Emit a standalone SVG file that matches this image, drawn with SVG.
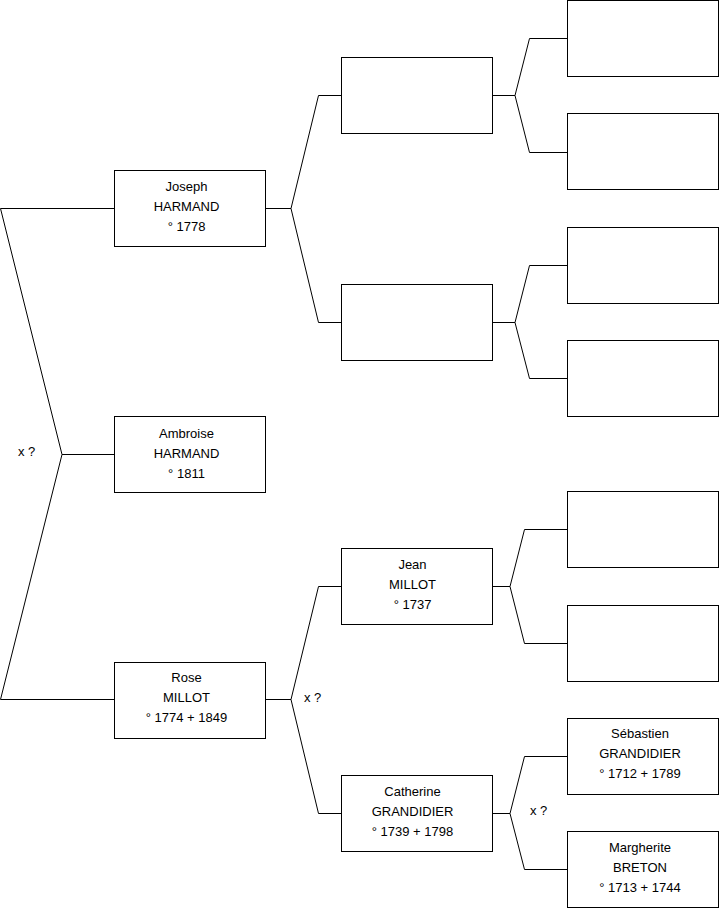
<svg xmlns="http://www.w3.org/2000/svg" width="719" height="908" viewBox="0 0 719 908">
<style>
.box{fill:#fff;stroke:#000;stroke-width:1}
.ln{fill:none;stroke:#000;stroke-width:1}
text{font-family:"Liberation Sans",Arial,sans-serif;font-size:13px;fill:#000;text-anchor:middle}
.lbl{text-anchor:start}
</style>
<rect width="719" height="908" fill="#fff"/>
<g id="connectors">
<polyline class="ln" points="114,208.5 0.5,208.5 62,454.5 0.5,699.5 114,699.5"/>
<line class="ln" x1="62" y1="454.5" x2="114" y2="454.5"/>
<polyline class="ln" points="341,95.5 318.5,95.5 291,208.5 265,208.5"/>
<polyline class="ln" points="291,208.5 318.5,322.5 341,322.5"/>
<polyline class="ln" points="341,586.5 318.5,586.5 291,699.5 265,699.5"/>
<polyline class="ln" points="291,699.5 318.5,813.5 341,813.5"/>
<polyline class="ln" points="567,38.5 529.5,38.5 515,95.5 492,95.5"/>
<polyline class="ln" points="515,95.5 529.5,152.5 567,152.5"/>
<polyline class="ln" points="567,265.5 529.5,265.5 515,322.5 492,322.5"/>
<polyline class="ln" points="515,322.5 529.5,378.5 567,378.5"/>
<polyline class="ln" points="567,529.5 524.5,529.5 510,586.5 492,586.5"/>
<polyline class="ln" points="510,586.5 524.5,643.5 567,643.5"/>
<polyline class="ln" points="567,756.5 524.5,756.5 510,813.5 492,813.5"/>
<polyline class="ln" points="510,813.5 524.5,869.5 567,869.5"/>
</g>
<g id="labels">
<text class="lbl" x="18" y="456">x ?</text>
<text class="lbl" x="304" y="702">x ?</text>
<text class="lbl" x="530" y="815">x ?</text>
</g>
<g id="joseph">
<rect class="box" x="114.5" y="170.5" width="151" height="76"/>
<text x="186.5" y="191">Joseph</text>
<text x="186.5" y="211">HARMAND</text>
<text x="186.5" y="231">° 1778</text>
</g>
<g id="ambroise">
<rect class="box" x="114.5" y="416.5" width="151" height="76"/>
<text x="186.5" y="438">Ambroise</text>
<text x="186.5" y="458">HARMAND</text>
<text x="186.5" y="478">° 1811</text>
</g>
<g id="rose">
<rect class="box" x="114.5" y="662.5" width="151" height="76"/>
<text x="186.5" y="682">Rose</text>
<text x="186.5" y="702">MILLOT</text>
<text x="186.5" y="722">° 1774 + 1849</text>
</g>
<g id="p2a"><rect class="box" x="341.5" y="57.5" width="151" height="76"/></g>
<g id="p2b"><rect class="box" x="341.5" y="284.5" width="151" height="76"/></g>
<g id="jean">
<rect class="box" x="341.5" y="548.5" width="151" height="76"/>
<text x="412.5" y="569">Jean</text>
<text x="412.5" y="589">MILLOT</text>
<text x="412.5" y="609">° 1737</text>
</g>
<g id="catherine">
<rect class="box" x="341.5" y="775.5" width="151" height="76"/>
<text x="412.5" y="796">Catherine</text>
<text x="412.5" y="816">GRANDIDIER</text>
<text x="412.5" y="836">° 1739 + 1798</text>
</g>
<g id="p3a"><rect class="box" x="567.5" y="0.5" width="151" height="76"/></g>
<g id="p3b"><rect class="box" x="567.5" y="113.5" width="151" height="76"/></g>
<g id="p3c"><rect class="box" x="567.5" y="227.5" width="151" height="76"/></g>
<g id="p3d"><rect class="box" x="567.5" y="340.5" width="151" height="76"/></g>
<g id="p3e"><rect class="box" x="567.5" y="491.5" width="151" height="76"/></g>
<g id="p3f"><rect class="box" x="567.5" y="605.5" width="151" height="76"/></g>
<g id="sebastien">
<rect class="box" x="567.5" y="718.5" width="151" height="76"/>
<text x="640" y="738">Sébastien</text>
<text x="640" y="758">GRANDIDIER</text>
<text x="640" y="778">° 1712 + 1789</text>
</g>
<g id="margherite">
<rect class="box" x="567.5" y="831.5" width="151" height="76"/>
<text x="640" y="852">Margherite</text>
<text x="640" y="872">BRETON</text>
<text x="640" y="892">° 1713 + 1744</text>
</g>
</svg>
